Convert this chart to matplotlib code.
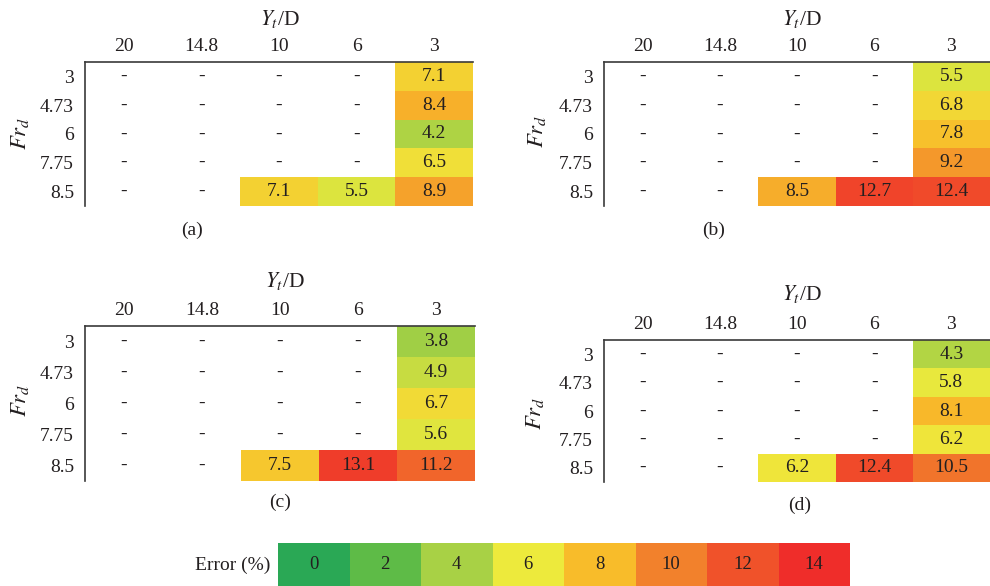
import numpy as np
import matplotlib
matplotlib.use("Agg")
import matplotlib.pyplot as plt
from matplotlib.colors import LinearSegmentedColormap, Normalize

# ---------------------------
# Style
# ---------------------------
plt.rcParams["font.family"] = ["Liberation Serif", "DejaVu Serif"]
plt.rcParams["mathtext.fontset"] = "stix"
TXT = "#231f20"
FS = 14

# ---------------------------
# Data
# ---------------------------
yt_labels = ["20", "14.8", "10", "6", "3"]
frd_labels = ["3", "4.73", "6", "7.75", "8.5"]
nan = np.nan

err_a = [[nan, nan, nan, nan, 7.1],
         [nan, nan, nan, nan, 8.4],
         [nan, nan, nan, nan, 4.2],
         [nan, nan, nan, nan, 6.5],
         [nan, nan, 7.1, 5.5, 8.9]]

err_b = [[nan, nan, nan, nan, 5.5],
         [nan, nan, nan, nan, 6.8],
         [nan, nan, nan, nan, 7.8],
         [nan, nan, nan, nan, 9.2],
         [nan, nan, 8.5, 12.7, 12.4]]

err_c = [[nan, nan, nan, nan, 3.8],
         [nan, nan, nan, nan, 4.9],
         [nan, nan, nan, nan, 6.7],
         [nan, nan, nan, nan, 5.6],
         [nan, nan, 7.5, 13.1, 11.2]]

err_d = [[nan, nan, nan, nan, 4.3],
         [nan, nan, nan, nan, 5.8],
         [nan, nan, nan, nan, 8.1],
         [nan, nan, nan, nan, 6.2],
         [nan, nan, 6.2, 12.4, 10.5]]

legend_levels = [0, 2, 4, 6, 8, 10, 12, 14]
legend_colors = ["#2aa855", "#5fbb47", "#a8d145", "#eeea3c",
                 "#f8bc2a", "#f2812c", "#f0522a", "#ef2d2a"]

cmap = LinearSegmentedColormap.from_list(
    "err", list(zip(np.array(legend_levels) / 14.0, legend_colors)))
norm = Normalize(0, 14)

# ---------------------------
# Figure (pixel layout helpers)
# ---------------------------
W, H = 990, 586
fig = plt.figure(figsize=(W / 100, H / 100), dpi=100)


def px_rect(left, top, right, bottom):
    return [left / W, 1 - bottom / H, (right - left) / W, (bottom - top) / H]


def draw_panel(box, values, tag, title_xy, ylab_xy, cap_xy):
    ax = fig.add_axes(px_rect(*box))
    data = np.array(values, dtype=float)
    ax.pcolormesh(np.arange(6), np.arange(6), np.ma.masked_invalid(data),
                  cmap=cmap, norm=norm)
    ax.set_xlim(0, 5)
    ax.set_ylim(5, 0)

    for i in range(5):
        for j in range(5):
            v = data[i, j]
            s = "-" if np.isnan(v) else f"{v:.1f}"
            ax.text(j + 0.5, i + 0.5, s, ha="center", va="center",
                    fontsize=FS, color=TXT)

    ax.xaxis.tick_top()
    ax.set_xticks(np.arange(5) + 0.5, yt_labels)
    ax.set_yticks(np.arange(5) + 0.5, frd_labels)
    ax.tick_params(length=0, labelsize=FS, labelcolor=TXT)
    ax.tick_params(axis="x", pad=5)
    ax.tick_params(axis="y", pad=8)
    for side in ["right", "bottom"]:
        ax.spines[side].set_visible(False)
    for side in ["left", "top"]:
        ax.spines[side].set_color("#3a3a3a")
        ax.spines[side].set_linewidth(1.2)

    fig.text(title_xy[0] / W, 1 - title_xy[1] / H, r"$Y_t$/D",
             ha="center", va="center", fontsize=FS + 1.5, color=TXT)
    fig.text(ylab_xy[0] / W, 1 - ylab_xy[1] / H, r"$Fr_d$", rotation=90,
             ha="center", va="center", fontsize=FS + 2.5, color=TXT)
    fig.text(cap_xy[0] / W, 1 - cap_xy[1] / H, tag,
             ha="center", va="center", fontsize=FS, color=TXT)


draw_panel((85, 62, 473, 206), err_a, "(a)", (280, 19), (20, 133), (192, 230))
draw_panel((604, 62, 990, 206), err_b, "(b)", (802, 19), (537, 131), (714, 230))
draw_panel((85, 326, 475, 481), err_c, "(c)", (285, 281), (20, 400), (280, 502))
draw_panel((604, 340, 990, 482), err_d, "(d)", (802, 294), (535, 413), (800, 505))

# ---------------------------
# Colour key
# ---------------------------
lax = fig.add_axes(px_rect(278, 543, 850, 586))
lax.pcolormesh(np.arange(len(legend_levels) + 1), [0, 1],
               np.array([legend_levels], dtype=float), cmap=cmap, norm=norm)
for k, lev in enumerate(legend_levels):
    lax.text(k + 0.5, 0.5, str(lev), ha="center", va="center",
             fontsize=FS - 0.5, color=TXT)
lax.set_xlim(0, len(legend_levels))
lax.set_ylim(0, 1)
lax.axis("off")
fig.text(270 / W, 1 - 565 / H, "Error (%)", ha="right", va="center",
         fontsize=FS, color=TXT)

fig.savefig("out.png", dpi=100)
